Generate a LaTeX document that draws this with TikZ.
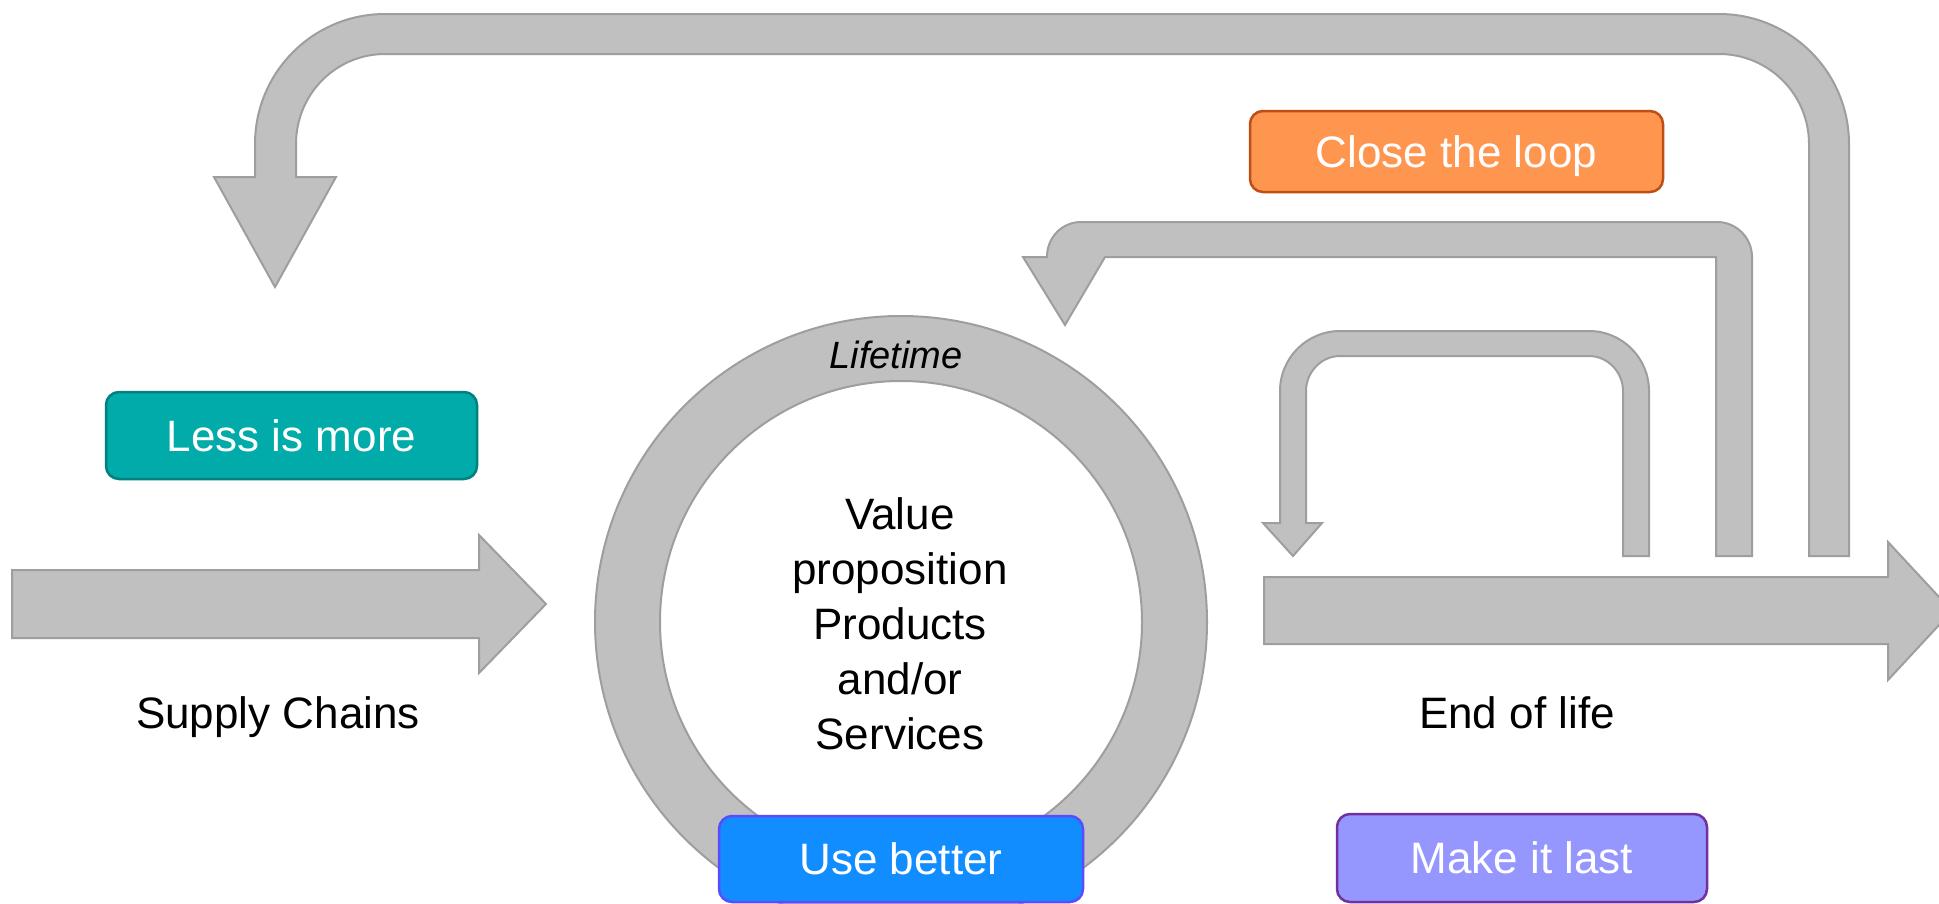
\documentclass[tikz,border=0pt]{standalone}
\usepackage{fontspec}
\setmainfont{Liberation Sans}
\definecolor{shapefill}{HTML}{C0C0C0}
\definecolor{shapeline}{HTML}{9E9E9E}
\definecolor{tealfill}{HTML}{00ABA9}
\definecolor{tealline}{HTML}{00807E}
\definecolor{orangefill}{HTML}{FF9650}
\definecolor{orangeline}{HTML}{BF4E14}
\definecolor{bluefill}{HTML}{118DFF}
\definecolor{blueline}{HTML}{5B4BFF}
\definecolor{lavfill}{HTML}{9696FF}
\definecolor{lavline}{HTML}{7030A0}
\tikzset{
  grayshape/.style={fill=shapefill, draw=shapeline, line width=2pt, line join=miter},
  tagbox/.style={rounded corners=13pt, line width=2.5pt, text=white,
    font=\fontsize{44pt}{53pt}\selectfont, text height=31.5pt, text depth=0pt, inner sep=0pt},
  plainlabel/.style={font=\fontsize{44pt}{55pt}\selectfont, inner sep=0pt, text=black}
}
\begin{document}
\begin{tikzpicture}[x=1pt,y=-1pt]
\useasboundingbox (0,0) rectangle (1939,903);
\clip (0,0) rectangle (1939,903);
\fill[white] (0,0) rectangle (1939,903);

% big outer loop arrow
\draw[grayshape] (1809,556) -- (1849,556) -- (1849,144)
  .. controls (1849,72.2) and (1790.8,14) .. (1719,14)
  -- (385,14)
  .. controls (313.2,14) and (255,72.2) .. (255,144)
  -- (255,177) -- (214,177) -- (275,287) -- (336,177) -- (296,177) -- (296,144)
  .. controls (296,94.3) and (335.8,54) .. (385,54)
  -- (1719,54)
  .. controls (1768.7,54) and (1809,94.3) .. (1809,144)
  -- cycle;

% middle loop arrow
\draw[grayshape] (1716,556) -- (1752,556) -- (1752,257)
  .. controls (1752,237.7) and (1736.3,222) .. (1717,222)
  -- (1081,222)
  .. controls (1062.2,222) and (1047,237.2) .. (1047,257)
  -- (1023,257) -- (1065,325) -- (1105,257) -- (1716,257) -- cycle;

% small inner loop arrow
\draw[grayshape] (1623,556) -- (1649,556) -- (1649,391)
  .. controls (1649,357.9) and (1622.1,331) .. (1589,331)
  -- (1340,331)
  .. controls (1306.9,331) and (1280,357.9) .. (1280,391)
  -- (1280,523) -- (1263,523) -- (1293,556) -- (1322,523) -- (1306,523) -- (1306,391)
  .. controls (1306,372.2) and (1321.2,356) .. (1340,356)
  -- (1589,356)
  .. controls (1607.8,356) and (1623,372.2) .. (1623,391)
  -- cycle;

% supply chain arrow
\draw[grayshape] (12,570) -- (479,570) -- (479,535) -- (546,604) -- (479,673) -- (479,638) -- (12,638) -- cycle;

% end of life arrow
\draw[grayshape] (1264,577) -- (1888,577) -- (1888,542) -- (1952,611) -- (1888,680) -- (1888,644) -- (1264,644) -- cycle;

% lifetime ring
\draw[grayshape, even odd rule] (901,622) circle[radius=306pt] (901,622) circle[radius=241pt];

% texts
\node[plainlabel, font=\fontsize{38pt}{45pt}\selectfont\itshape, anchor=base] (lifetime) at (896,368) {Lifetime};
\node[plainlabel, align=center, anchor=north] (value) at (900,497) {Value\\proposition\\Products\\and/or\\Services};
\node[plainlabel, anchor=base] (supply) at (278,728) {Supply Chains};
\node[plainlabel, anchor=base] (eol) at (1517,728) {End of life};

% tag boxes
\node[tagbox, fill=tealfill, draw=tealline, minimum width=371pt, minimum height=87pt] (less) at (291.5,435.5) {Less is more};
\node[tagbox, fill=orangefill, draw=orangeline, minimum width=413pt, minimum height=81pt] (close) at (1456.5,151.5) {Close the loop};
\node[tagbox, fill=bluefill, draw=blueline, minimum width=364pt, minimum height=86pt] (use) at (901,859) {Use better};
\node[tagbox, fill=lavfill, draw=lavline, minimum width=370pt, minimum height=88pt] (last) at (1522,858) {Make it last};
\end{tikzpicture}
\end{document}
